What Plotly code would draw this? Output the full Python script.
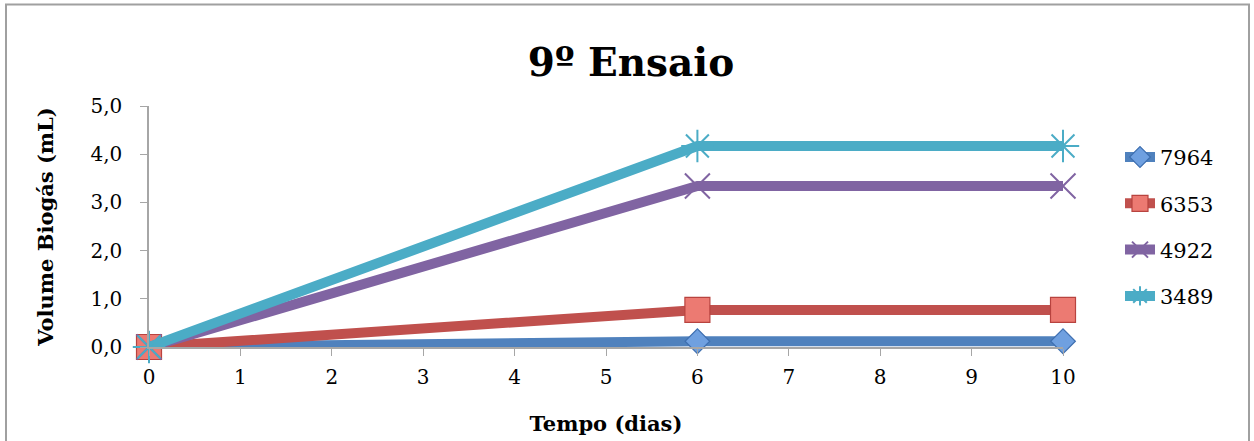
import plotly.graph_objects as go

# Dias de medição e volume acumulado de biogás (mL) por amostra
dias = [0, 6, 10]
series_nomes = ["7964", "6353", "4922", "3489"]
vol_7964 = [0.0, 0.12, 0.12]
vol_6353 = [0.0, 0.77, 0.77]
vol_4922 = [0.0, 3.34, 3.34]
vol_3489 = [0.0, 4.17, 4.17]

valores = [vol_7964, vol_6353, vol_4922, vol_3489]
cores_linha = ["#4F81BD", "#C0504D", "#8064A2", "#4BACC6"]
marcadores = [
    dict(symbol="diamond", size=19, color="#6FA0E0", line=dict(color="#3E6FB0", width=1.2)),
    dict(symbol="square", size=25, color="#EC7A72", line=dict(color="#B8433F", width=1.2)),
    dict(symbol="x-thin-open", size=25, color="#8064A2", line=dict(color="#8064A2", width=2)),
    dict(symbol="asterisk-open", size=27, color="#4BACC6", line=dict(color="#4BACC6", width=2)),
]

serif = "DejaVu Serif, Liberation Serif, serif"

fig = go.Figure()
for nome, ys, cor, mk in zip(series_nomes, valores, cores_linha, marcadores):
    fig.add_trace(go.Scatter(
        x=dias, y=ys, name=nome, mode="lines+markers",
        line=dict(color=cor, width=10),
        marker=mk,
        legendgroup=nome,
        cliponaxis=False,
    ))

fig.update_layout(
    width=1254, height=441,
    margin=dict(l=149, r=191, t=106, b=94, autoexpand=False),
    paper_bgcolor="white", plot_bgcolor="white",
    separators=", ",
    font=dict(family=serif, size=20, color="black"),
    title=dict(text="<b>9º Ensaio</b>", x=(631 - 149) / 914, xanchor="center", xref="paper",
               y=1 - 62 / 441, yanchor="middle", font=dict(size=39, family=serif)),
    legend=dict(x=(1120 - 149) / 914, xanchor="left", y=0.872, yanchor="top",
                font=dict(size=21, family=serif), tracegroupgap=16,
                bgcolor="rgba(0,0,0,0)"),
    showlegend=True,
)

fig.update_xaxes(
    range=[0, 10], dtick=1, tick0=0, showgrid=False, zeroline=False,
    showline=True, linecolor="#A6A6A6", linewidth=1.5,
    ticks="outside", ticklen=7, tickcolor="#A6A6A6",
    ticklabelstandoff=4, automargin=False,
    tickfont=dict(size=20, family=serif),
    title=dict(text="<b>Tempo (dias)</b>", font=dict(size=21, family=serif), standoff=29),
)
fig.update_yaxes(
    range=[0, 5], dtick=1, tick0=0, tickformat=".1f", showgrid=False, zeroline=False,
    showline=True, linecolor="#A6A6A6", linewidth=1.5,
    ticks="outside", ticklen=7, tickcolor="#A6A6A6",
    ticklabelstandoff=14, automargin=False,
    tickfont=dict(size=20, family=serif),
    title=dict(text="<b>Volume Biogás (mL)</b>", font=dict(size=21, family=serif), standoff=31),
)

# Moldura cinza da área do gráfico
fig.add_shape(type="rect", xref="paper", yref="paper",
              x0=(6 - 149) / 914, x1=(1249 - 149) / 914,
              y0=-0.6, y1=(347 - 4.5) / 241,
              line=dict(color="#A0A0A0", width=2), layer="below")

fig.write_html("out.html")
